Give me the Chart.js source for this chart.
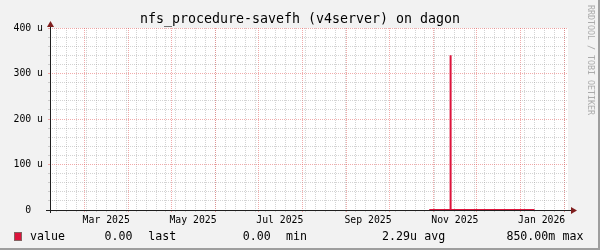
<!DOCTYPE html>
<html><head><meta charset="utf-8">
<script src="https://cdn.jsdelivr.net/npm/chart.js@4/dist/chart.umd.min.js"></script>
<style>html,body{margin:0;padding:0;background:#F2F2F2;overflow:hidden}canvas{display:block}</style>
</head><body>
<canvas id="c" width="600" height="250"></canvas>
<script>
// ---- data ----
const chartTitle = 'nfs_procedure-savefh (v4server) on dagon';
const seriesName = 'value';
const watermark = 'RRDTOOL / TOBI OETIKER';
// samples (values in u = 1e-6); unknown before / after
const sampleDates  = ['2025-10-29', '2025-11-13', '2025-11-13', '2025-11-13', '2026-01-11'];
const sampleValues = [0, 0, 340, 0, 0];
const rangeStart = '2025-02-04T12:00:00Z';
const rangeEnd   = '2026-02-03T12:00:00Z';
const monthLineDates = ['2025-03-01','2025-04-01','2025-05-01','2025-06-01','2025-07-01','2025-08-01',
  '2025-09-01','2025-10-01','2025-11-01','2025-12-01','2026-01-01','2026-02-01'];
const firstWeekLine = '2025-02-09';
const xLabelDates = ['2025-03-16','2025-05-16','2025-07-16','2025-09-16','2025-11-16','2026-01-16'];
const xTickLabels = ['Mar 2025','May 2025','Jul 2025','Sep 2025','Nov 2025','Jan 2026'];
const yMajorValues = [0, 100, 200, 300, 400];
const yTickLabels = ['0  ', '100 u', '200 u', '300 u', '400 u'];
const yMinorValues = [20,40,60,80,120,140,160,180,220,240,260,280,320,340,360,380];
const legendValues = ['0.00', '0.00', '2.29u', '850.00m'];
const legendNames  = ['last', 'min', 'avg', 'max'];

// ---- helpers ----
const t = s => Date.parse(s.length === 10 ? s + 'T00:00:00Z' : s);
const DAY = 86400000;
const xMin = t(rangeStart), xMax = t(rangeEnd);
const weekLines = [];
for (let v = t(firstWeekLine); v <= xMax; v += 7 * DAY) weekLines.push(v);
const points = sampleDates.map((d, i) => ({x: t(d), y: sampleValues[i]}));

const FONT = "'DejaVu Sans Mono', 'Liberation Mono', monospace";
const LINE = '#DC143C';
const MINOR = 'rgba(150,150,150,0.42)';
const MAJOR = 'rgba(228,80,80,0.48)';
const AXIS = '#1F1F1F';
const ARROW = '#801F1F';

function fixTicks(values) {
  return function (scale) { scale.ticks = values.map(v => ({value: v})); };
}
function zeroH(scale) { scale.height = 0; scale.paddingLeft = 0; scale.paddingRight = 0; }
function zeroW(scale) { scale.width = 0; scale.paddingTop = 0; scale.paddingBottom = 0; }

const deco = {
  id: 'deco',
  beforeDraw(chart) {
    const c = chart.ctx, a = chart.chartArea;
    c.save();
    c.fillStyle = '#F2F2F2'; c.fillRect(0, 0, 600, 250);
    c.fillStyle = '#9E9E9E';
    c.fillRect(598, 0, 2, 250); c.fillRect(0, 248, 600, 2);
    c.fillStyle = '#FFFFFF';
    c.fillRect(a.left, a.top, a.right - a.left, a.bottom - a.top);
    c.restore();
  },
  afterDraw(chart) {
    const c = chart.ctx, a = chart.chartArea;
    c.save();
    // axis extensions
    c.strokeStyle = AXIS; c.lineWidth = 1;
    c.beginPath();
    c.moveTo(a.left - 4, a.bottom + 0.5); c.lineTo(a.right + 4, a.bottom + 0.5);
    c.moveTo(a.left + 0.5, a.bottom + 3); c.lineTo(a.left + 0.5, a.top - 4);
    c.stroke();
    // arrows
    c.fillStyle = ARROW;
    c.beginPath();
    c.moveTo(a.right + 3, a.bottom - 3); c.lineTo(a.right + 9, a.bottom + 0.5); c.lineTo(a.right + 3, a.bottom + 4);
    c.closePath(); c.fill();
    c.beginPath();
    c.moveTo(a.left - 3, a.top - 1); c.lineTo(a.left + 0.5, a.top - 7); c.lineTo(a.left + 4, a.top - 1);
    c.closePath(); c.fill();
    // title
    c.fillStyle = '#000';
    c.font = '13.3px ' + FONT;
    c.textAlign = 'center'; c.textBaseline = 'alphabetic';
    c.fillText(chartTitle, 300, 23);
    // legend
    c.font = '11.6px ' + FONT;
    c.textAlign = 'left';
    c.fillStyle = LINE; c.fillRect(15, 233, 6, 7);
    c.strokeStyle = 'rgba(60,0,0,0.6)'; c.lineWidth = 1; c.strokeRect(14.5, 232.5, 7, 8);
    c.fillStyle = '#000';
    const y = 240;
    c.fillText(seriesName, 30, y);
    const vx = [104.6, 242.8, 382.1, 506.4];
    const nx = [148.2, 286, 424.2, 562.5];
    legendValues.forEach((v, i) => {
      c.fillText(v, vx[i], y);
      c.fillText(legendNames[i], nx[i], y);
    });
    // watermark
    c.fillStyle = '#ABABAB';
    c.font = '8.3px ' + FONT;
    c.translate(590, 5); c.rotate(Math.PI / 2);
    c.textBaseline = 'middle'; c.textAlign = 'left';
    c.fillText(watermark, 0, 0);
    c.restore();
  }
};

Chart.defaults.font.family = FONT;
new Chart(document.getElementById('c'), {
  type: 'line',
  data: {datasets: [{
    label: seriesName, data: points, borderColor: LINE, borderWidth: 2,
    pointRadius: 0, tension: 0, fill: false, spanGaps: false, clip: 4
  }]},
  options: {
    responsive: false, animation: false, devicePixelRatio: 1,
    layout: {padding: {left: 0, top: 28, right: 32, bottom: 18}},
    plugins: {legend: {display: false}, tooltip: {enabled: false}, title: {display: false}},
    scales: {
      xMinor: {type: 'linear', position: 'bottom', min: xMin, max: xMax,
        afterBuildTicks: fixTicks(weekLines), afterFit: zeroH,
        ticks: {display: false},
        grid: {color: MINOR, drawTicks: true, tickLength: 2, tickColor: MINOR},
        border: {display: false, dash: [1, 1]}},
      xMajor: {type: 'linear', position: 'bottom', min: xMin, max: xMax,
        afterBuildTicks: fixTicks(monthLineDates.map(t)), afterFit: zeroH,
        ticks: {display: false},
        grid: {color: MAJOR, drawTicks: true, tickLength: 2, tickColor: MAJOR},
        border: {display: false, dash: [1, 1]}},
      x: {type: 'linear', position: 'bottom', min: xMin, max: xMax,
        afterBuildTicks: fixTicks(xLabelDates.map(t)),
        afterFit: s => { s.height = 22; s.paddingLeft = 0; s.paddingRight = 0; },
        ticks: {display: true, color: '#000', font: {size: 9.8}, padding: 5, maxRotation: 0, autoSkip: false,
          callback: (v, i) => xTickLabels[i]},
        grid: {display: false, drawTicks: false},
        border: {display: true, color: AXIS, width: 1, z: 1}},
      yMinor: {type: 'linear', position: 'left', min: 0, max: 400,
        afterBuildTicks: fixTicks(yMinorValues), afterFit: zeroW,
        ticks: {display: false},
        grid: {color: MINOR, drawTicks: true, tickLength: 2, tickColor: MINOR},
        border: {display: false, dash: [1, 1]}},
      yMajor: {type: 'linear', position: 'left', min: 0, max: 400,
        afterBuildTicks: fixTicks(yMajorValues.slice(1)), afterFit: zeroW,
        ticks: {display: false},
        grid: {color: MAJOR, drawTicks: true, tickLength: 2, tickColor: MAJOR},
        border: {display: false, dash: [1, 1]}},
      y: {type: 'linear', position: 'left', min: 0, max: 400,
        afterBuildTicks: fixTicks(yMajorValues),
        afterFit: s => { s.width = 50; s.paddingTop = 0; s.paddingBottom = 0; },
        ticks: {display: true, color: '#000', font: {size: 9.8}, padding: 7,
          callback: (v, i) => yTickLabels[i]},
        grid: {display: false, drawTicks: false},
        border: {display: true, color: AXIS, width: 1, z: 1}}
    }
  },
  plugins: [deco]
});
</script>
</body></html>
